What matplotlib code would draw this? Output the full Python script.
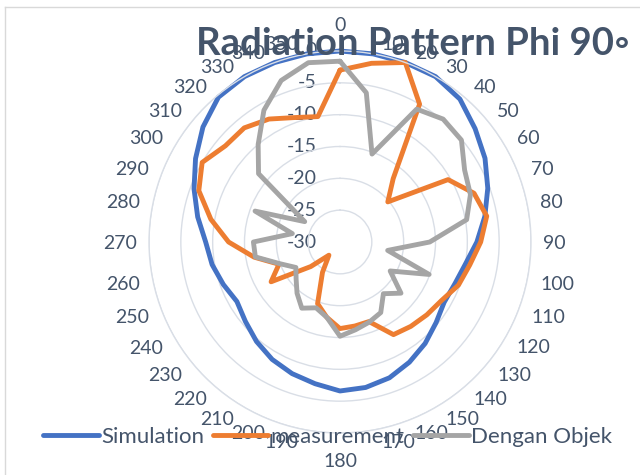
import numpy as np
import matplotlib
matplotlib.use("Agg")
import matplotlib.pyplot as plt
from matplotlib.lines import Line2D

# angles (degrees) and the three patterns in dB
angles = list(range(0, 360, 10))
simulation = [0, 0, 0, 0, -0.7, -2.3, -3.7, -5.3, -6.9, -8.5,
              -10.0, -10.8, -11.1, -10.3, -9.2, -8.2, -7.3, -6.8,
              -6.6, -7.4, -8.0, -8.7, -9.6, -10.6, -11.3, -10.5,
              -9.6, -8.9, -7.3, -5.6, -3.8, -1.9, -0.3, 0, 0, 0]
measurement = [-3.0, -1.5, 0, -5.0, -17.0, -20.2, -10.4, -7.6, -6.6, -7.9,
               -9.3, -10.2, -11.6, -12.2, -12.7, -13.2, -16.7, -16.6,
               -16.4, -18.0, -19.7, -24.5, -27.3, -24.0, -17.5, -19.8,
               -16.3, -12.5, -9.4, -6.4, -5.0, -6.5, -6.6, -7.7, -9.2, -10.0]
dengan_objek = [-1.6, -6.2, -15.3, -5.9, -4.8, -5.1, -7.4, -8.2, -9.8, -15.9,
                -22.4, -15.1, -20.9, -17.5, -19.4, -17.2, -16.6, -16.0,
                -15.2, -18.0, -19.0, -18.0, -19.5, -21.0, -22.0, -20.0,
                -16.5, -16.4, -22.4, -15.8, -23.6, -13.3, -10.0, -6.1, -3.0, -1.4]
r_ticks = [-30, -25, -20, -15, -10, -5, 0]

txt = '#44546A'
grid = '#D9DEE6'
font = ['Lato', 'DejaVu Sans']
W, H = 640, 475

fig = plt.figure(figsize=(6.4, 4.75), dpi=100)
fig.patch.set_facecolor('white')

# chart border (top and left visible)
fig.add_artist(Line2D([5/W, 1], [1-7/H, 1-7/H], color='#D9D9D9', lw=1))
fig.add_artist(Line2D([5/W, 5/W], [0, 1-7/H], color='#D9D9D9', lw=1))

cx, cy, rad = 340, 242, 191
ax = fig.add_axes([(cx-rad)/W, (H-cy-rad)/H, 2*rad/W, 2*rad/H],
                  projection='polar')
ax.set_theta_zero_location('N')
ax.set_theta_direction(-1)
ax.set_ylim(-30, 0)
ax.set_xticks([])
ax.set_yticks(r_ticks[1:])
ax.set_yticklabels([])
ax.yaxis.grid(True, color=grid, lw=1.0)
ax.spines['polar'].set_color(grid)
ax.spines['polar'].set_linewidth(1.0)
ax.set_facecolor('white')

th = np.deg2rad(angles + [angles[0]])
series = [('Simulation', simulation, '#4472C4'),
          ('measurement', measurement, '#ED7D31'),
          ('Dengan Objek', dengan_objek, '#A5A5A5')]
handles = []
for name, vals, col in series:
    h, = ax.plot(th, vals + [vals[0]], color=col, lw=3.5,
                 solid_joinstyle='round', solid_capstyle='round',
                 label=name, clip_on=False)
    handles.append(h)

# value axis labels
for v in r_ticks:
    ax.annotate(str(v), xy=(0, v), xytext=(-17, 0), textcoords='offset points',
                ha='right', va='center', fontsize=14, color=txt,
                family=font, zorder=1)

# category labels, placed Excel-like with the inner corner near the ring
digit_h = 14
for a in angles:
    s, c = np.sin(np.deg2rad(a)), np.cos(np.deg2rad(a))
    if abs(s) < 0.05:
        x = cx
        ha = 'center'
        ra = 211
    else:
        ra = 195
        x = cx + ra * s + 8 * np.sign(s)
        ha = 'left' if s > 0 else 'right'
    y = cy - ra * c
    if c > 0.05:
        yb = y
    elif c < -0.05:
        yb = y + digit_h
    else:
        yb = y + digit_h / 2
    fig.text(x / W, 1 - yb / H, str(a), ha=ha, va='baseline',
             fontsize=14, color=txt, family=font)

fig.text(196/W, 1-55/H, 'Radiation Pattern Phi 90\u25e6', ha='left',
         va='baseline', fontsize=27.5, fontweight='bold', color=txt,
         family=font)

leg = fig.legend(handles=handles, loc='center', ncol=3,
                 bbox_to_anchor=(0.512, 1-437/H), frameon=False,
                 handlelength=2.5, handletextpad=0.1,
                 columnspacing=0.4, prop={'family': font, 'size': 16})
for t in leg.get_texts():
    t.set_color(txt)

fig.savefig('out.png', dpi=100, facecolor='white')
